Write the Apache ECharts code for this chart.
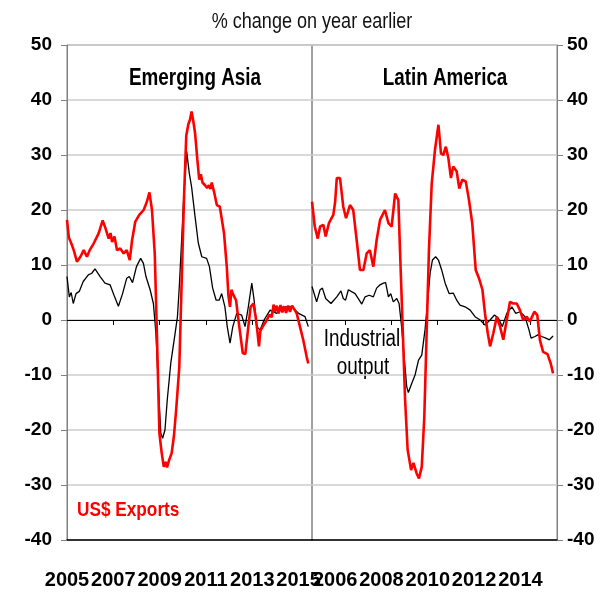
<!DOCTYPE html>
<html>
<head>
<meta charset="utf-8">
<script src="https://cdn.jsdelivr.net/npm/echarts@6/dist/echarts.min.js"></script>
<style>
  html, body { margin: 0; padding: 0; background: #fff; }
  #chart { width: 614px; height: 592px; }
</style>
</head>
<body>
<div id="chart"></div>
<script>
// [decimal year, % y/y]
const asiaExports = [
  [2005.00, 18.2], [2005.08, 15.0], [2005.18, 14.0], [2005.29, 12.7], [2005.43, 10.6], [2005.58, 11.5],
  [2005.72, 12.7], [2005.86, 11.5], [2005.98, 12.7], [2006.15, 13.9], [2006.37, 15.8], [2006.54, 18.1],
  [2006.66, 16.7], [2006.80, 14.8], [2006.88, 15.8], [2006.95, 14.2], [2007.05, 15.2], [2007.16, 12.7],
  [2007.30, 13.0], [2007.45, 12.1], [2007.58, 12.7], [2007.71, 10.9], [2007.81, 14.5], [2007.95, 17.9],
  [2008.12, 19.1], [2008.31, 20.0], [2008.45, 21.5], [2008.56, 23.2], [2008.67, 20.0], [2008.79, 12.0],
  [2008.88, -2.0], [2008.99, -20.6], [2009.09, -24.2], [2009.18, -26.7], [2009.26, -25.8], [2009.32, -26.8],
  [2009.40, -25.6], [2009.52, -24.2], [2009.62, -21.0], [2009.72, -16.0], [2009.85, -8.5], [2009.95, 6.7],
  [2010.05, 21.8], [2010.15, 33.5], [2010.24, 35.6], [2010.31, 36.4], [2010.38, 37.9], [2010.46, 36.0],
  [2010.53, 34.0], [2010.63, 29.1], [2010.71, 25.5], [2010.78, 26.5], [2010.85, 25.0], [2010.96, 24.5],
  [2011.05, 24.0], [2011.13, 24.5], [2011.20, 23.8], [2011.25, 25.0], [2011.35, 23.3], [2011.47, 20.9],
  [2011.60, 20.6], [2011.68, 20.9], [2011.78, 15.8], [2011.90, 9.7], [2011.97, 4.5], [2012.04, 2.4],
  [2012.10, 5.5], [2012.16, 4.8], [2012.30, 3.6], [2012.44, -1.2], [2012.59, -6.0], [2012.70, -6.2],
  [2012.83, -1.2], [2012.93, 2.4], [2013.05, 3.0], [2013.15, 0.5], [2013.22, -2.0], [2013.29, -4.8],
  [2013.35, -2.0], [2013.45, -1.2], [2013.63, 0.0], [2013.75, 1.0], [2013.84, 0.5], [2013.92, 2.8],
  [2013.98, 1.5], [2014.06, 2.6], [2014.14, 1.2], [2014.22, 2.7], [2014.30, 1.4], [2014.38, 2.5],
  [2014.46, 1.3], [2014.55, 2.6], [2014.63, 1.5], [2014.72, 2.6], [2014.80, 2.8], [2014.92, 1.2],
  [2015.06, -1.2], [2015.20, -3.6], [2015.35, -6.7], [2015.42, -7.9]
];
const asiaOutput = [
  [2005.00, 7.9], [2005.10, 4.2], [2005.18, 5.0], [2005.27, 3.0], [2005.39, 4.8], [2005.53, 5.2],
  [2005.70, 7.0], [2005.92, 8.2], [2006.07, 8.5], [2006.21, 9.3], [2006.43, 7.9], [2006.64, 6.7],
  [2006.86, 6.4], [2007.03, 4.5], [2007.22, 2.5], [2007.40, 4.8], [2007.58, 7.6], [2007.69, 7.9],
  [2007.83, 6.8], [2008.00, 9.7], [2008.18, 11.2], [2008.30, 10.3], [2008.41, 7.9], [2008.59, 5.5],
  [2008.73, 3.0], [2008.84, -2.4], [2008.94, -11.5], [2009.05, -20.6], [2009.13, -21.5], [2009.23, -20.0],
  [2009.33, -14.5], [2009.48, -7.9], [2009.67, -2.4], [2009.77, 0.6], [2009.85, 6.1], [2009.95, 14.5],
  [2010.05, 23.0], [2010.17, 30.6], [2010.28, 26.7], [2010.38, 24.2], [2010.53, 18.8], [2010.67, 14.0],
  [2010.82, 11.5], [2011.03, 11.2], [2011.15, 9.7], [2011.29, 5.8], [2011.44, 3.6], [2011.57, 3.6],
  [2011.68, 4.8], [2011.82, 2.4], [2011.92, -1.2], [2012.04, -4.2], [2012.16, -1.2], [2012.33, 1.2],
  [2012.54, 0.9], [2012.69, -1.2], [2012.83, 2.4], [2012.98, 6.7], [2013.08, 3.6], [2013.19, -1.2],
  [2013.34, -1.8], [2013.51, 0.0], [2013.77, 1.8], [2014.06, 1.2], [2014.34, 2.4], [2014.71, 2.4],
  [2015.00, 1.2], [2015.28, 0.6], [2015.42, -1.2]
];
const latamExports = [
  [2005.00, 21.5], [2005.12, 17.0], [2005.25, 14.8], [2005.35, 17.0], [2005.49, 17.3], [2005.59, 15.2],
  [2005.73, 17.6], [2005.92, 19.1], [2006.00, 21.5], [2006.07, 25.8], [2006.21, 25.8], [2006.35, 20.6],
  [2006.47, 18.5], [2006.64, 20.9], [2006.78, 20.0], [2006.93, 14.5], [2007.07, 9.1], [2007.22, 9.1],
  [2007.36, 12.1], [2007.50, 12.7], [2007.65, 9.7], [2007.79, 14.5], [2007.94, 18.2], [2008.15, 20.0],
  [2008.30, 17.6], [2008.44, 17.0], [2008.59, 23.0], [2008.73, 21.8], [2008.80, 12.7], [2008.90, 0.6],
  [2009.02, -14.5], [2009.13, -23.6], [2009.28, -27.3], [2009.38, -26.0], [2009.52, -27.9], [2009.62, -28.8],
  [2009.74, -26.7], [2009.85, -17.6], [2009.95, -2.4], [2010.05, 12.7], [2010.17, 24.8], [2010.31, 30.9],
  [2010.46, 35.5], [2010.57, 30.3], [2010.67, 30.0], [2010.78, 31.5], [2010.89, 29.4], [2011.00, 25.8],
  [2011.10, 27.9], [2011.25, 27.0], [2011.36, 23.9], [2011.49, 25.5], [2011.64, 25.2], [2011.78, 21.8],
  [2011.92, 17.6], [2012.07, 9.1], [2012.21, 7.6], [2012.36, 5.5], [2012.47, 1.2], [2012.59, -2.4],
  [2012.69, -4.8], [2012.83, -2.4], [2012.98, 0.6], [2013.12, -1.2], [2013.26, -3.6], [2013.41, 0.0],
  [2013.55, 3.3], [2013.69, 3.0], [2013.84, 3.0], [2013.98, 1.8], [2014.12, 0.0], [2014.27, 0.6],
  [2014.41, -0.3], [2014.60, 1.5], [2014.73, 0.9], [2014.84, -3.6], [2014.98, -5.8], [2015.17, -6.2],
  [2015.31, -7.9], [2015.41, -9.7]
];
const latamOutput = [
  [2005.00, 6.1], [2005.20, 3.3], [2005.35, 5.5], [2005.45, 5.8], [2005.59, 3.9], [2005.82, 3.0],
  [2006.07, 4.2], [2006.25, 5.3], [2006.35, 3.9], [2006.45, 3.6], [2006.57, 5.5], [2006.86, 4.8],
  [2007.00, 3.9], [2007.15, 2.9], [2007.29, 4.2], [2007.47, 4.5], [2007.65, 4.2], [2007.79, 5.8],
  [2007.94, 6.4], [2008.08, 6.7], [2008.18, 6.8], [2008.30, 4.2], [2008.40, 4.8], [2008.51, 3.3],
  [2008.66, 3.9], [2008.76, 3.0], [2008.87, -1.2], [2008.99, -7.3], [2009.09, -12.1], [2009.16, -13.2],
  [2009.31, -11.5], [2009.45, -10.0], [2009.60, -7.3], [2009.74, -6.4], [2009.88, -1.8], [2010.00, 3.6],
  [2010.10, 8.5], [2010.20, 10.9], [2010.34, 11.5], [2010.46, 10.9], [2010.60, 9.1], [2010.75, 6.7],
  [2010.92, 4.8], [2011.10, 4.9], [2011.25, 3.6], [2011.39, 2.7], [2011.61, 2.4], [2011.83, 1.8],
  [2012.04, 0.6], [2012.26, 0.0], [2012.47, -0.9], [2012.69, 0.0], [2012.88, 0.9], [2013.05, 0.3],
  [2013.22, -1.2], [2013.41, 1.2], [2013.63, 2.4], [2013.80, 1.2], [2013.98, 1.5], [2014.20, 0.6],
  [2014.37, -1.8], [2014.46, -3.3], [2014.63, -3.0], [2014.75, -2.7], [2014.92, -3.0], [2015.10, -3.3],
  [2015.25, -3.6], [2015.41, -2.9]
];

const asiaYearLabels = ['2005', '2007', '2009', '2011', '2013', '2015'];
const latamYearLabels = ['2006', '2008', '2010', '2012', '2014'];
const yTicks = { min: -40, max: 50, step: 10 };

// monthly slots, only used to place the small ticks on the zero line
const months = [];
for (let i = 0; i < 128; i++) {
  months.push((2005 + Math.floor(i / 12)) + '-' + (i % 12 + 1));
}

const SANS = '"Liberation Sans", Arial, sans-serif';
const GREY = '#808080';
const NARROW_X = 0.82; // squeeze for free text, the original uses a narrow face

function yAxisFor(gridIndex, side, margin) {
  return {
    type: 'value', gridIndex: gridIndex, position: side,
    min: yTicks.min, max: yTicks.max, interval: yTicks.step,
    axisLine: { show: true, lineStyle: { color: GREY, width: 1 } },
    axisTick: { show: true, length: 6, lineStyle: { color: GREY } },
    axisLabel: { color: '#000', fontFamily: SANS, fontWeight: 'bold', fontSize: 19, margin: margin },
    splitLine: { show: true, lineStyle: { color: '#cccccc', width: 1.5 } }
  };
}

function yearAxis(gridIndex, labels) {
  return {
    type: 'value', gridIndex: gridIndex, position: 'bottom',
    min: 2005, max: 2015.58, interval: 1,
    axisLine: { show: true, onZero: false, lineStyle: { color: '#000', width: 1.5 } },
    axisTick: { show: false },
    splitLine: { show: false },
    axisLabel: {
      color: '#000', fontFamily: SANS, fontWeight: 'bold', fontSize: 20, margin: 30,
      showMinLabel: true, showMaxLabel: false,
      formatter: function (v) { return labels.indexOf(String(v)) >= 0 ? String(v) : ''; }
    }
  };
}

function zeroAxis(gridIndex, firstTick) {
  return {
    type: 'category', gridIndex: gridIndex, position: 'bottom',
    data: months, boundaryGap: false,
    axisLine: { show: true, onZero: true, lineStyle: { color: '#000', width: 1 } },
    axisTick: {
      show: true, length: 5, lineStyle: { color: '#000' },
      interval: function (i) { return i >= firstTick && (i - firstTick) % 24 === 0; }
    },
    axisLabel: { show: false },
    splitLine: { show: false }
  };
}

function line(name, data, idx, color, width, z) {
  return {
    name: name, type: 'line', data: data, xAxisIndex: idx, yAxisIndex: idx,
    showSymbol: false, symbol: 'none', z: z,
    lineStyle: { color: color, width: width }
  };
}

function note(text, x, y, font, color, align) {
  return {
    type: 'text', x: x, y: y, scaleX: NARROW_X,
    style: { text: text, font: font, fill: color, align: align || 'center', verticalAlign: 'middle' }
  };
}

const chart = echarts.init(document.getElementById('chart'));
chart.setOption({
  animation: false,
  backgroundColor: '#fff',
  grid: [
    { left: 67, top: 45, width: 245, height: 495, show: true, borderColor: GREY, borderWidth: 1 },
    { left: 312, top: 45, width: 245, height: 495, show: true, borderColor: GREY, borderWidth: 1 }
  ],
  xAxis: [
    yearAxis(0, asiaYearLabels),
    yearAxis(1, latamYearLabels),
    zeroAxis(0, 24),
    zeroAxis(1, 17)
  ],
  yAxis: [
    yAxisFor(0, 'left', 15),
    yAxisFor(1, 'right', 10)
  ],
  series: [
    line('Emerging Asia industrial output', asiaOutput, 0, '#000', 1.3, 3),
    line('Emerging Asia US$ exports', asiaExports, 0, '#ff0000', 2.6, 4),
    line('Latin America industrial output', latamOutput, 1, '#000', 1.3, 3),
    line('Latin America US$ exports', latamExports, 1, '#ff0000', 2.6, 4)
  ],
  graphic: [
    note('% change on year earlier', 312, 22, '22px ' + SANS, '#111'),
    note('Emerging Asia', 195, 79, 'bold 23px ' + SANS, '#000'),
    note('Latin America', 445, 79, 'bold 23px ' + SANS, '#000'),
    note('Industrial', 362, 340, '23px ' + SANS, '#000'),
    note('output', 363, 368, '23px ' + SANS, '#000'),
    note('US$ Exports', 77, 510, 'bold 21px ' + SANS, '#ff0000', 'left')
  ]
});
</script>
</body>
</html>
